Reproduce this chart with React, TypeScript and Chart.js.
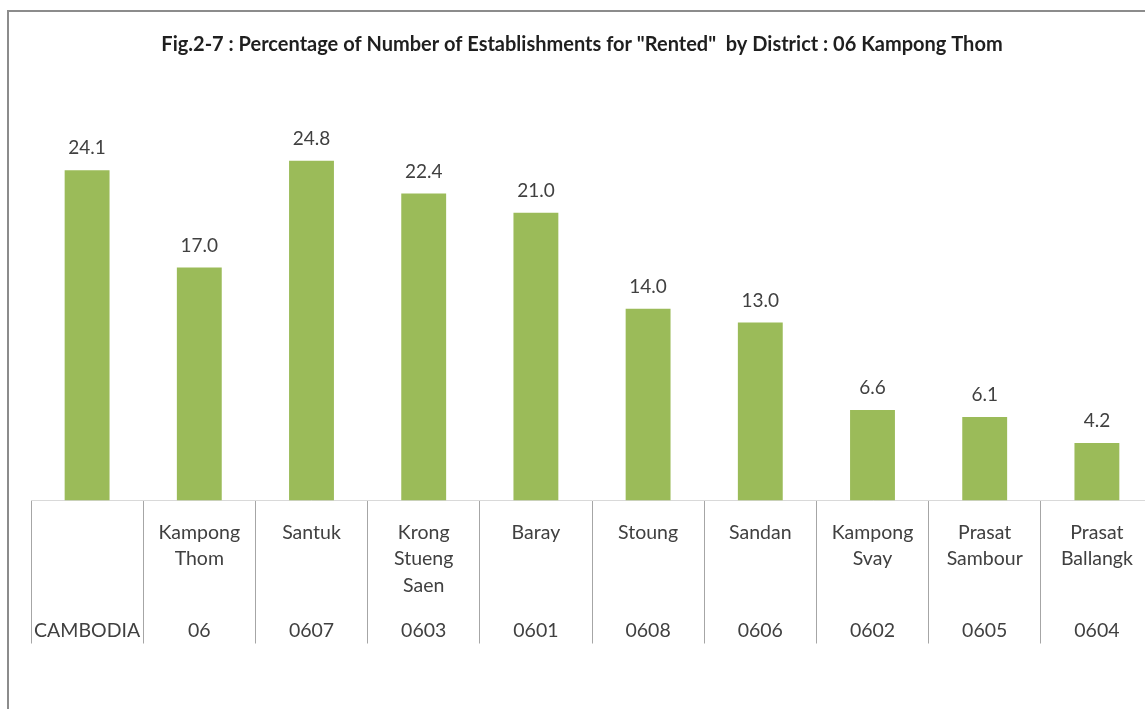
import React, { useEffect, useRef } from "react";
import { Chart, registerables } from "chart.js";

Chart.register(...registerables);

const TITLE =
  'Fig.2-7 : Percentage of Number of Establishments for "Rented"  by District : 06 Kampong Thom';

const districtNames: string[][] = [
  [""],
  ["Kampong", "Thom"],
  ["Santuk"],
  ["Krong", "Stueng", "Saen"],
  ["Baray"],
  ["Stoung"],
  ["Sandan"],
  ["Kampong", "Svay"],
  ["Prasat", "Sambour"],
  ["Prasat", "Ballangk"],
];

const districtCodes: string[] = [
  "CAMBODIA",
  "06",
  "0607",
  "0603",
  "0601",
  "0608",
  "0606",
  "0602",
  "0605",
  "0604",
];

const rentedPercent: number[] = [24.1, 17.0, 24.8, 22.4, 21.0, 14.0, 13.0, 6.6, 6.1, 4.2];

const FONT = "Lato, 'Open Sans', sans-serif";

const tablePlugin = {
  id: "tableText",
  afterDraw(chart: any) {
    const ctx = chart.ctx as CanvasRenderingContext2D;
    const xScale = chart.scales.x;
    const bottom = chart.chartArea.bottom;
    ctx.save();
    ctx.textAlign = "center";
    ctx.textBaseline = "middle";

    // title
    ctx.font = `bold 20px ${FONT}`;
    ctx.fillStyle = "#1f1f1f";
    ctx.fillText(TITLE, 582, 45);

    // data labels
    const meta = chart.getDatasetMeta(0);
    ctx.font = `19px ${FONT}`;
    ctx.fillStyle = "#404040";
    meta.data.forEach((bar: any, i: number) => {
      ctx.fillText(rentedPercent[i].toFixed(1), bar.x, bar.y - 22);
    });

    // category table text
    ctx.font = `19.5px ${FONT}`;
    ctx.fillStyle = "#404040";
    districtNames.forEach((lines, i) => {
      const px = xScale.getPixelForValue(i);
      lines.forEach((line, j) => {
        if (line) ctx.fillText(line, px, bottom + 32 + j * 26.5);
      });
      ctx.fillText(districtCodes[i], px, bottom + 130);
    });
    ctx.restore();
  },
};

export default function App() {
  const canvasRef = useRef<HTMLCanvasElement | null>(null);

  useEffect(() => {
    if (!canvasRef.current) return;
    const chart = new Chart(canvasRef.current, {
      type: "bar",
      data: {
        labels: districtCodes,
        datasets: [
          {
            data: rentedPercent,
            backgroundColor: "#9BBB59",
            borderWidth: 0,
            barPercentage: 0.4,
            categoryPercentage: 1.0,
          },
        ],
      },
      options: {
        animation: false,
        responsive: false,
        devicePixelRatio: 1,
        layout: {
          padding: { left: 31, right: 7, top: 89.5, bottom: 65.5 },
        },
        plugins: {
          legend: { display: false },
          tooltip: { enabled: false },
          title: { display: false },
        },
        scales: {
          x: {
            grid: {
              display: true,
              offset: true,
              drawOnChartArea: false,
              drawTicks: true,
              tickLength: 143,
              color: "#A6A6A6",
              lineWidth: 1,
            },
            border: { display: true, color: "#D9D9D9", width: 1 },
            ticks: { display: false },
          },
          y: {
            display: false,
            min: 0,
            max: 30,
          },
        },
      },
      plugins: [tablePlugin],
    });
    return () => chart.destroy();
  }, []);

  return (
    <div
      style={{
        position: "fixed",
        left: 0,
        top: 0,
        width: 1145,
        height: 709,
        overflow: "hidden",
        background: "#ffffff",
      }}
    >
      <canvas
        ref={canvasRef}
        width={1160}
        height={709}
        style={{ display: "block", width: 1160, height: 709 }}
      />
      <div
        style={{
          position: "absolute",
          left: 7,
          top: 10,
          width: 1200,
          height: 800,
          borderLeft: "2px solid #8c8c8c",
          borderTop: "2px solid #8c8c8c",
          pointerEvents: "none",
        }}
      />
    </div>
  );
}
